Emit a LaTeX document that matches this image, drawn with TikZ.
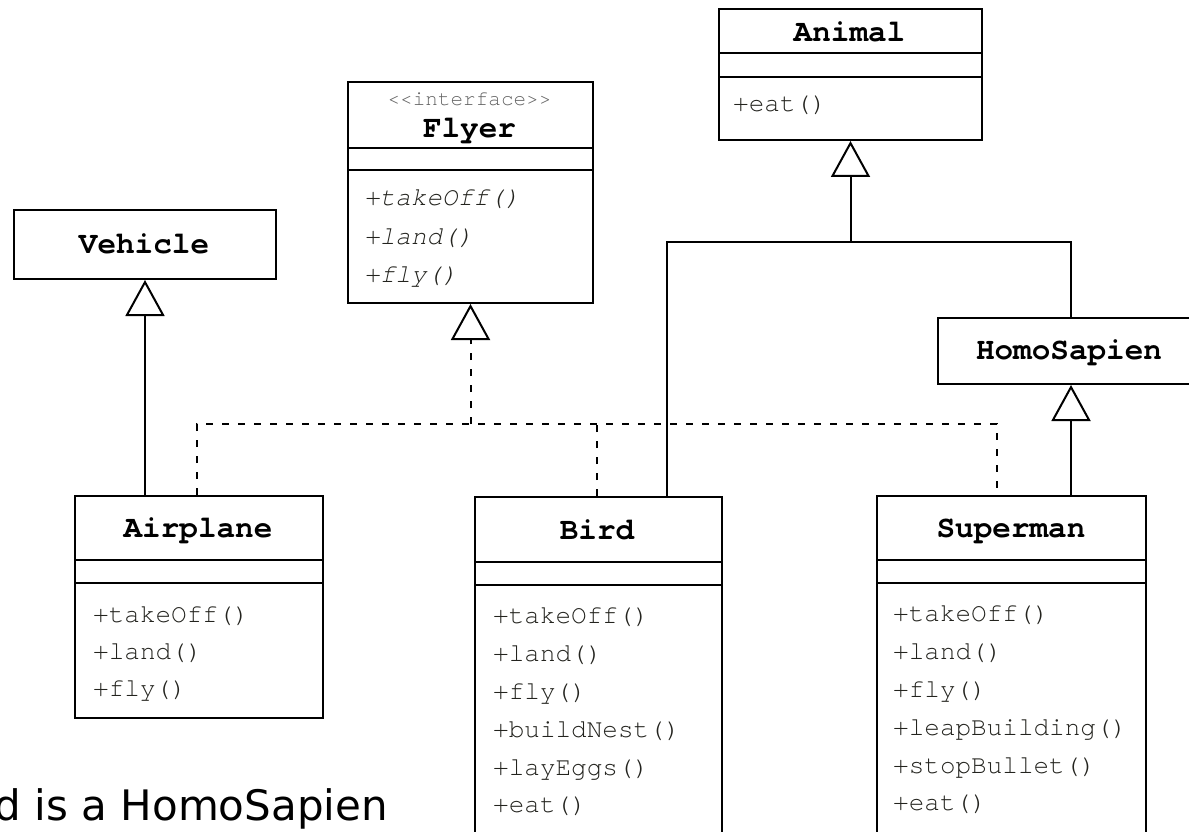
\documentclass[tikz,border=0pt]{standalone}
\usepackage{fontspec}
\setmainfont{Liberation Serif}
\newfontfamily\umlmono[Ligatures={NoCommon,NoRequired,NoContextual}]{TeX Gyre Cursor}
\newfontfamily\notefont{DejaVu Sans}
\usetikzlibrary{arrows.meta,calc}
\definecolor{opcol}{RGB}{35,35,30}
\definecolor{stereocol}{RGB}{100,100,100}
\begin{document}
\begin{tikzpicture}[x=1pt,y=-1pt,
  box/.style={draw=black, line width=2pt, rectangle, inner sep=0pt, anchor=north west},
  sepline/.style={draw=black, line width=2pt},
  cname/.style={font=\umlmono\bfseries\fontsize{31}{31}\selectfont, anchor=base, inner sep=0pt},
  stereo/.style={font=\umlmono\fontsize{21}{21}\selectfont, text=stereocol, anchor=base, inner sep=0pt},
  op/.style={font=\umlmono\fontsize{26}{26}\selectfont, text=opcol, anchor=base west, inner sep=0pt},
  iop/.style={font=\umlmono\itshape\fontsize{26}{26}\selectfont, text=opcol, anchor=base west, inner sep=0pt},
  assoc/.style={draw=black, line width=2pt},
  inh/.style={draw=black, line width=2pt, -{Triangle[open, length=36pt, width=39pt, line width=2pt]}},
  real/.style={draw=black, line width=2pt, dash pattern=on 7pt off 9pt},
  realinh/.style={real, -{Triangle[open, length=36pt, width=39pt, line width=2pt]}},
  note/.style={font=\notefont\fontsize{42}{42}\selectfont, anchor=base east, inner sep=0pt}
]
\useasboundingbox (0,0) rectangle (1189,832);

% ---- boxes ----
\node[box, minimum width=263pt, minimum height=131pt] (animal) at (718,8) {};
\draw[sepline] (animal.west |- 0,53) -- (animal.east |- 0,53);
\draw[sepline] (animal.west |- 0,77) -- (animal.east |- 0,77);
\node[cname] (animal-name) at (849.5,42) {Animal};
\node[op] (animal-op1) at (733,112) {+eat()};

\node[box, minimum width=245pt, minimum height=221pt] (flyer) at (347,81) {};
\draw[sepline] (flyer.west |- 0,148) -- (flyer.east |- 0,148);
\draw[sepline] (flyer.west |- 0,170) -- (flyer.east |- 0,170);
\node[stereo] (flyer-stereo) at (469.5,106) {<<interface>>};
\node[cname] (flyer-name) at (469.5,138) {Flyer};
\node[iop] (flyer-op1) at (364,205) {+takeOff()};
\node[iop] (flyer-op2) at (364,244) {+land()};
\node[iop] (flyer-op3) at (364,282) {+fly()};

\node[box, minimum width=262pt, minimum height=69pt] (vehicle) at (13,209) {};
\node[cname] (vehicle-name) at (144,253) {Vehicle};

\node[box, minimum width=266pt, minimum height=66pt] (homosapien) at (937,317) {};
\node[cname] (homosapien-name) at (1069,359) {HomoSapien};

\node[box, minimum width=248pt, minimum height=222pt] (airplane) at (74,495) {};
\draw[sepline] (airplane.west |- 0,560) -- (airplane.east |- 0,560);
\draw[sepline] (airplane.west |- 0,583) -- (airplane.east |- 0,583);
\node[cname] (airplane-name) at (198,537) {Airplane};
\node[op] (airplane-op1) at (93,622) {+takeOff()};
\node[op] (airplane-op2) at (93,659) {+land()};
\node[op] (airplane-op3) at (93,696) {+fly()};

\node[box, minimum width=247pt, minimum height=364pt] (bird) at (474,496) {};
\draw[sepline] (bird.west |- 0,562) -- (bird.east |- 0,562);
\draw[sepline] (bird.west |- 0,585) -- (bird.east |- 0,585);
\node[cname] (bird-name) at (597,539) {Bird};
\node[op] (bird-op1) at (493,623) {+takeOff()};
\node[op] (bird-op2) at (493,661) {+land()};
\node[op] (bird-op3) at (493,699) {+fly()};
\node[op] (bird-op4) at (493,737) {+buildNest()};
\node[op] (bird-op5) at (493,775) {+layEggs()};
\node[op] (bird-op6) at (493,812) {+eat()};

\node[box, minimum width=269pt, minimum height=365pt] (superman) at (876,495) {};
\draw[sepline] (superman.west |- 0,560) -- (superman.east |- 0,560);
\draw[sepline] (superman.west |- 0,583) -- (superman.east |- 0,583);
\node[cname] (superman-name) at (1011,537) {Superman};
\node[op] (superman-op1) at (893,621) {+takeOff()};
\node[op] (superman-op2) at (893,659) {+land()};
\node[op] (superman-op3) at (893,697) {+fly()};
\node[op] (superman-op4) at (893,735) {+leapBuilding()};
\node[op] (superman-op5) at (893,773) {+stopBullet()};
\node[op] (superman-op6) at (893,810) {+eat()};

% ---- connector helper coordinates ----
\coordinate (ay) at (0,242);
\coordinate (fy) at (0,424);
\coordinate (airplane-r) at ($(airplane.north west)+(123,0)$);
\coordinate (bird-r) at ($(bird.north west)+(123,0)$);
\coordinate (superman-r) at ($(superman.north west)+(121,0)$);
\coordinate (bird-g) at ($(bird.north west)+(193,0)$);
\coordinate (fj) at (flyer.south |- fy);
\coordinate (aj) at (animal.south |- ay);

% ---- generalisations ----
\draw[inh] (vehicle.south |- airplane.north) -- (vehicle.south);
\draw[assoc] (bird-g) -- (bird-g |- ay) -- (homosapien.north |- ay) -- (homosapien.north);
\draw[inh] (aj) -- (animal.south);
\draw[inh] (homosapien.south |- superman.north) -- (homosapien.south);

% ---- realisations ----
\draw[real] (airplane-r) -- (airplane-r |- fy) -- (superman-r |- fy) -- (superman-r);
\draw[real] (bird-r) -- (bird-r |- fy);
\draw[realinh] (fj) -- (flyer.south);

% ---- note ----
\node[note] (note) at (388,820) {d is a HomoSapien};
\end{tikzpicture}
\end{document}
